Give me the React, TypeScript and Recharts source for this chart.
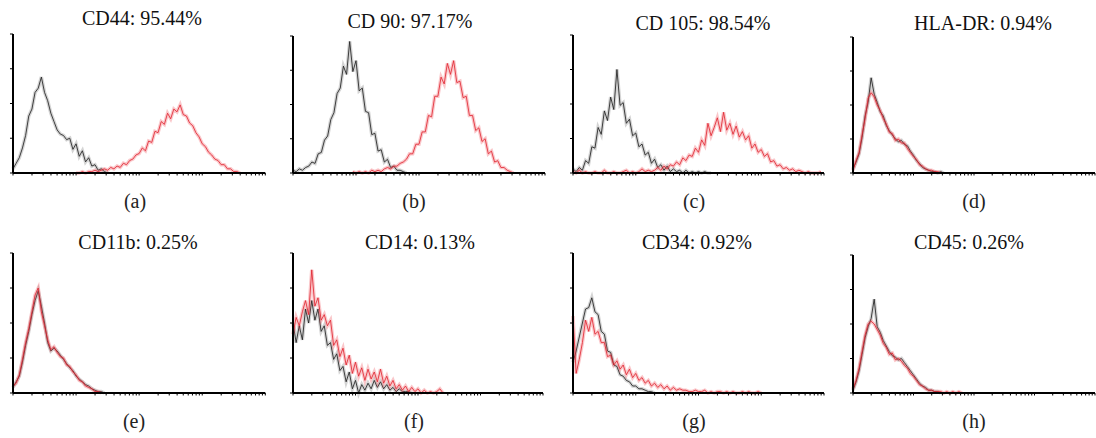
import { LineChart, Line, XAxis, YAxis } from 'recharts'

// fluorescence axis in decades (10^0 .. 10^4), one point every 0.05 decade
const STEP = 0.05
const xTicks = [0, 1, 2, 3]
  .flatMap(d => [1, 2, 3, 4, 5, 6, 7, 8, 9].map(k => d + Math.log10(k)))
  .concat([4])
const yTicks = [0, 25, 50, 75, 100]

// isotype control (black) and marker (red) counts, % of panel height
const cd44Iso = [3, 7, 11, 18, 27, 41, 46, 58, 61, 69, 58, 52, 43, 37, 31, 28, 27, 24, 25, 17, 21, 12, 16, 8, 11, 5, 6, 2, 3, 1, 0]
const cd44 = [0, 0, 1, 0, 1, 1, 2, 1, 2, 3, 2, 4, 3, 5, 4, 7, 6, 9, 10, 13, 14, 18, 16, 23, 22, 30, 29, 37, 35, 43, 39, 46, 44, 49, 42, 41, 36, 34, 29, 26, 21, 19, 15, 13, 10, 9, 6, 6, 3, 3, 1, 1, 0]

const cd90Iso = [2, 1, 3, 2, 4, 5, 8, 7, 14, 15, 24, 27, 39, 44, 58, 62, 78, 72, 96, 74, 82, 60, 62, 45, 44, 28, 29, 16, 17, 8, 10, 4, 5, 2, 2, 1, 0]
const cd90 = [1, 0, 1, 0, 1, 0, 2, 1, 2, 1, 3, 4, 3, 5, 5, 7, 8, 10, 14, 14, 21, 21, 30, 30, 42, 41, 56, 56, 70, 65, 80, 72, 82, 66, 67, 55, 56, 42, 42, 31, 33, 23, 25, 14, 16, 8, 9, 4, 4, 2, 1, 0]

const cd105Iso = [3, 1, 4, 2, 9, 7, 19, 18, 33, 28, 45, 38, 55, 46, 75, 49, 51, 36, 39, 27, 29, 19, 21, 13, 15, 7, 10, 4, 6, 2, 5, 1, 3, 1, 2, 0, 2, 0, 1, 0, 1, 0, 1, 0, 0]
const cd105 = [1, 0, 2, 0, 1, 0, 0, 1, 0, 0, 2, 0, 0, 1, 0, 0, 1, 2, 0, 1, 0, 1, 3, 1, 2, 1, 2, 4, 2, 5, 3, 6, 5, 8, 6, 11, 9, 13, 12, 18, 15, 24, 20, 36, 27, 33, 40, 30, 44, 31, 36, 28, 34, 26, 30, 24, 27, 18, 21, 15, 17, 12, 14, 8, 9, 5, 6, 3, 4, 2, 3, 1, 2, 1, 0, 1, 0, 0, 0, 1]

const hladrIso = [3, 8, 14, 26, 42, 52, 70, 58, 52, 45, 42, 35, 31, 28, 25, 23, 24, 21, 20, 16, 13, 9, 7, 4, 3, 2, 1, 1, 0, 1, 0]
const hladr = [2, 9, 15, 28, 40, 55, 59, 56, 50, 46, 40, 36, 30, 29, 24, 25, 22, 22, 18, 15, 12, 10, 6, 5, 3, 2, 2, 1, 1, 0]

const cd11bIso = [4, 8, 12, 22, 34, 44, 56, 66, 73, 62, 50, 36, 30, 32, 30, 27, 24, 21, 18, 16, 12, 10, 8, 6, 5, 3, 2, 1, 1, 0]
const cd11b = [5, 7, 13, 24, 36, 46, 58, 70, 75, 58, 48, 38, 31, 33, 29, 26, 25, 20, 19, 15, 13, 9, 8, 5, 4, 3, 1, 1, 0]

const cd14Iso = [50, 36, 48, 38, 60, 50, 66, 52, 60, 44, 48, 34, 36, 24, 28, 16, 19, 8, 15, 3, 9, 0, 6, 2, 7, 3, 9, 4, 8, 3, 6, 2, 4, 1, 3, 1, 1, 1, 0]
const cd14 = [42, 54, 48, 58, 66, 56, 88, 62, 68, 52, 56, 48, 52, 34, 38, 26, 32, 20, 27, 14, 22, 12, 18, 9, 17, 10, 15, 8, 17, 7, 12, 5, 9, 3, 6, 2, 5, 1, 4, 1, 3, 0, 2, 0, 1, 0, 1, 3, 0]

const cd34Iso = [22, 30, 40, 50, 60, 61, 68, 58, 56, 44, 42, 30, 29, 20, 19, 13, 12, 9, 8, 5, 5, 3, 3, 2, 1, 1, 0]
const cd34 = [55, 14, 24, 36, 52, 44, 54, 42, 44, 36, 36, 26, 27, 20, 23, 17, 20, 13, 17, 11, 14, 9, 11, 7, 9, 5, 7, 4, 6, 3, 5, 2, 4, 2, 3, 2, 2, 1, 1, 2, 1, 1, 2, 0, 1, 0, 1, 1, 0, 1, 0, 1, 0, 0, 1, 0, 1, 0, 0, 1, 0]

const cd45Iso = [2, 8, 16, 28, 40, 48, 54, 68, 48, 44, 38, 34, 30, 27, 26, 24, 25, 22, 19, 16, 13, 10, 7, 5, 4, 2, 2, 1, 1, 0]
const cd45 = [3, 9, 18, 30, 42, 50, 52, 50, 46, 42, 36, 33, 28, 29, 24, 25, 23, 20, 18, 14, 12, 9, 6, 5, 3, 2, 2, 1, 1, 1, 0, 1, 0, 1, 0, 1, 0]

const titles = ['CD44: 95.44%', 'CD 90: 97.17%', 'CD 105: 98.54%', 'HLA-DR: 0.94%', 'CD11b: 0.25%', 'CD14: 0.13%', 'CD34: 0.92%', 'CD45: 0.26%']
const tags = ['(a)', '(b)', '(c)', '(d)', '(e)', '(f)', '(g)', '(h)']
const blacks = [cd44Iso, cd90Iso, cd105Iso, hladrIso, cd11bIso, cd14Iso, cd34Iso, cd45Iso]
const reds = [cd44, cd90, cd105, hladr, cd11b, cd14, cd34, cd45]
const redStarts = [20, 19, 0, 0, 0, 0, 0, 0]

// layout of each small panel (plot box in page pixels)
const boxes = [
  { x: 12.7, top: 34, bottom: 173, right: 265, tx: 142, ty: 18, gx: 135, gy: 201 },
  { x: 293, top: 36, bottom: 173, right: 545, tx: 410, ty: 21, gx: 414, gy: 201 },
  { x: 573, top: 35, bottom: 173, right: 824, tx: 703, ty: 23, gx: 694, gy: 201 },
  { x: 853, top: 37, bottom: 173, right: 1095, tx: 983, ty: 23, gx: 974, gy: 201 },
  { x: 12.7, top: 253, bottom: 393, right: 265, tx: 138, ty: 242, gx: 134, gy: 421 },
  { x: 293, top: 253, bottom: 393, right: 543, tx: 420, ty: 242, gx: 414, gy: 421 },
  { x: 573, top: 253, bottom: 393, right: 824, tx: 697, ty: 242, gx: 694, gy: 421 },
  { x: 853, top: 255, bottom: 393, right: 1095, tx: 969, ty: 242, gx: 974, gy: 421 },
]

const AX = 6, MT = 4, MR = 2
const serif = '"Liberation Serif", "DejaVu Serif", serif'
const noLabel = () => <g />

function buildRows(black: number[], red: number[], rs: number) {
  const n = Math.max(black.length, rs + red.length)
  const rows = []
  for (let i = 0; i < n; i++) {
    rows.push({
      x: i * STEP,
      k: i < black.length ? black[i] : null,
      r: i >= rs && i < rs + red.length ? red[i - rs] : null,
    })
  }
  return rows
}

function Panel({ idx }: { idx: number }) {
  const b = boxes[idx]
  const w = b.right - b.x
  const h = b.bottom - b.top
  const data = buildRows(blacks[idx], reds[idx], redStarts[idx])
  return (
    <>
      <div style={{ position: 'absolute', left: b.x - AX, top: b.top - MT }}>
        <LineChart width={w + AX + MR} height={h + MT + AX} data={data}
          margin={{ top: MT, right: MR, bottom: 0, left: 0 }}>
          <XAxis dataKey="x" type="number" domain={[0, 4]} ticks={xTicks} height={AX}
            tick={noLabel} tickSize={2.5} axisLine={{ stroke: '#000', strokeWidth: 2 }}
            tickLine={{ stroke: '#000', strokeWidth: 1 }} interval={0} />
          <YAxis type="number" domain={[0, 100]} ticks={yTicks} width={AX}
            tick={noLabel} tickSize={3} axisLine={{ stroke: '#000', strokeWidth: 2 }}
            tickLine={{ stroke: '#000', strokeWidth: 1 }} interval={0} />
          <Line dataKey="k" stroke="#555" strokeWidth={3.5} strokeOpacity={0.25}
            dot={false} isAnimationActive={false} />
          <Line dataKey="k" stroke="#222" strokeWidth={1} strokeOpacity={0.85}
            dot={false} isAnimationActive={false} />
          <Line dataKey="r" stroke="#ee4450" strokeWidth={3.5} strokeOpacity={0.3}
            dot={false} isAnimationActive={false} />
          <Line dataKey="r" stroke="#e0202c" strokeWidth={1} strokeOpacity={0.8}
            dot={false} isAnimationActive={false} />
        </LineChart>
      </div>
      <div style={{ position: 'absolute', left: b.tx, top: b.ty, transform: 'translate(-50%, -50%)',
        whiteSpace: 'nowrap', fontFamily: serif, fontSize: 20, lineHeight: 1, color: '#111' }}>
        {titles[idx]}
      </div>
      <div style={{ position: 'absolute', left: b.gx, top: b.gy, transform: 'translate(-50%, -50%)',
        whiteSpace: 'nowrap', fontFamily: serif, fontSize: 20, lineHeight: 1, color: '#222' }}>
        {tags[idx]}
      </div>
    </>
  )
}

export default function App() {
  return (
    <div style={{ position: 'absolute', left: 0, top: 0, width: 1096, height: 438, background: '#fff' }}>
      {titles.map((_, i) => <Panel key={i} idx={i} />)}
    </div>
  )
}
